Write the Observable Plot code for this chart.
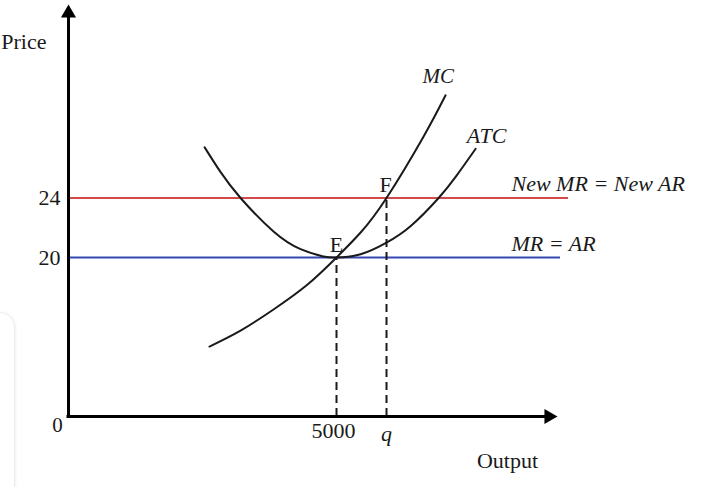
<!DOCTYPE html>
<html><head><meta charset="utf-8">
<script src="https://cdn.jsdelivr.net/npm/d3@7"></script>
<script src="https://cdn.jsdelivr.net/npm/@observablehq/plot@0.6"></script>
<style>
body{margin:0;background:#fff;}
#chart{width:720px;height:487px;overflow:hidden;position:relative;}
#card{position:absolute;left:-30px;top:312px;width:43px;height:220px;border:1px solid #ececec;border-radius:15px;box-shadow:1px 0 3px rgba(0,0,0,0.05);pointer-events:none;}
</style>
</head><body><div id="chart"><div id="card"></div></div>
<script>
// ---- data (output units, price units) ----
const outputMax = 9123;          // x-axis arrow tip
const priceMax = 37;             // y-axis arrow tip
const qOutput = 5933;            // q
const eOutput = 5000;            // 5000
const priceOld = 20;             // MR = AR
const priceNew = 24;             // New MR = New AR

const mcOutput = [2630, 3210, 3825, 4460, 5000, 5450, 5933, 6620, 7035];
const mcCost   = [8.8, 10.8, 13.46, 16.6, 20, 21.68, 24, 28.1, 30.9];

const atcOutput = [2540, 2835, 3210, 3825, 4330, 4755, 5000, 5450, 5933, 6380, 6905, 7240, 7595];
const atcCost   = [27.4, 25.75, 24, 21.75, 20.56, 20.07, 20, 20.22, 21.0, 22.1, 24, 25.5, 27.3];

const priceTicks = [20, 24];
const outputTicks = [5000];
const mrLines = [
  {price: priceNew, end: 9328, color: "#d44a4a", label: "New MR = New AR", labelX: 8265},
  {price: priceOld, end: 9179, color: "#3448b4", label: "MR = AR", labelX: 8265}
];
const curveLabels = [
  {text: "MC", x: 6900, y: 32.16, size: 21},
  {text: "ATC", x: 7800, y: 28.2, size: 22}
];
const pointLabels = [
  {text: "E", x: eOutput, y: priceOld},
  {text: "F", x: qOutput - 15, y: priceNew}
];

const mc = mcOutput.map((x, i) => ({x, y: mcCost[i]}));
const atc = atcOutput.map((x, i) => ({x, y: atcCost[i]}));

const font = "'Liberation Serif', 'Times New Roman', serif";
const ink = "#1a1a1a";

const plot = Plot.plot({
  width: 720, height: 487,
  marginLeft: 68, marginRight: 163, marginTop: 4, marginBottom: 71,
  style: {fontFamily: font, fontSize: "22px", background: "transparent", color: ink, overflow: "visible"},
  x: {domain: [0, outputMax], axis: null},
  y: {type: "linear", domain: [0, 20, priceMax], range: [416, 257, 4], axis: null},
  marks: [
    // horizontal MR lines
    Plot.ruleY(mrLines, {y: "price", x1: 0, x2: "end", stroke: "color", strokeWidth: 2}),
    // dashed verticals
    Plot.ruleX([{x: eOutput, top: priceOld}, {x: qOutput, top: priceNew}],
      {x: "x", y1: 0, y2: "top", stroke: ink, strokeWidth: 2, strokeDasharray: "8,5"}),
    // curves
    Plot.line(atc, {x: "x", y: "y", curve: "natural", stroke: ink, strokeWidth: 2}),
    Plot.line(mc, {x: "x", y: "y", curve: "natural", stroke: ink, strokeWidth: 2}),
    // axes lines
    Plot.ruleX([0], {y1: 0, y2: priceMax - 0.6, stroke: "#000", strokeWidth: 3, strokeLinecap: "square"}),
    Plot.ruleY([0], {x1: 0, x2: outputMax - 160, stroke: "#000", strokeWidth: 3, strokeLinecap: "square"}),
    // arrow heads
    Plot.dot([{x: 0, y: priceMax}], {x: "x", y: "y", symbol: "triangle", r: 5.6, fill: "#000", stroke: null, dy: 8.7}),
    Plot.dot([{x: outputMax, y: 0}], {x: "x", y: "y", symbol: "triangle", r: 5.6, fill: "#000", stroke: null, rotate: 90, dx: -8.7}),
    // tick labels
    Plot.axisY({ticks: priceTicks, tickSize: 0, tickPadding: 8, fontSize: 22, fill: ink, label: null, tickFormat: d => String(d)}),
    Plot.axisX({ticks: outputTicks, tickSize: 0, tickPadding: 6, fontSize: 22, fill: ink, label: null, dx: -3, tickFormat: d => String(d)}),
    Plot.text(["0"], {x: 0, y: 0, text: d => d, dx: -11, dy: 9, fontSize: 21, fill: ink}),
    Plot.text(["q"], {x: qOutput, y: 0, text: d => d, dy: 17, fontSize: 22, fontStyle: "italic", fill: ink}),
    Plot.text(["Output"], {x: 8190, y: 0, text: d => d, dy: 44, fontSize: 22, fill: ink}),
    Plot.text(["Price"], {x: 0, y: 34.5, text: d => d, dx: -22, textAnchor: "end", fontSize: 22, fill: ink}),
    // line labels
    Plot.text(mrLines, {x: "labelX", y: "price", text: "label", textAnchor: "start", dy: -14, fontSize: 22, fontStyle: "italic", fill: ink}),
    Plot.text(curveLabels, {x: "x", y: "y", text: "text", fontSize: d => d.size, fontStyle: "italic", fill: ink}),
    Plot.text(pointLabels, {x: "x", y: "y", text: "text", dy: -13, fontSize: 22, fill: ink})
  ]
});
document.getElementById("chart").appendChild(plot);
</script>
</body></html>
